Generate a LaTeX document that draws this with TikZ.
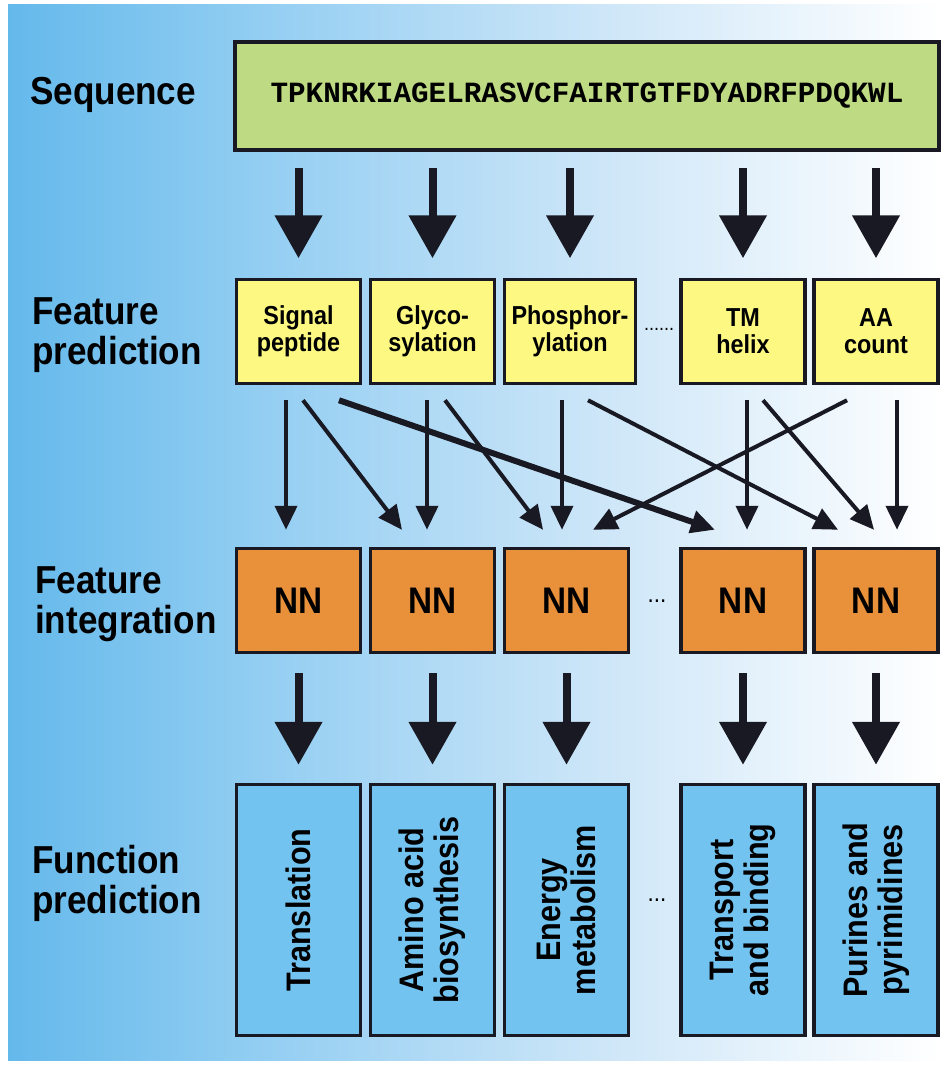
\documentclass[tikz,border=0pt]{standalone}
\usepackage{fontspec}
\usetikzlibrary{arrows.meta}
\newfontfamily\labfont{Liberation Sans}[FakeStretch=0.9]
\newfontfamily\seqfont{Liberation Mono}

\definecolor{seqgreen}{RGB}{190,218,130}
\definecolor{featyellow}{RGB}{252,248,130}
\definecolor{nnorange}{RGB}{232,145,58}
\definecolor{funcblue}{RGB}{115,195,240}
\definecolor{bgblue}{RGB}{100,185,235}
\definecolor{bgmid}{RGB}{145,205,242}
\definecolor{bglight}{RGB}{205,230,248}
\definecolor{edgeblack}{RGB}{25,25,35}

\begin{document}
\begin{tikzpicture}[
  x=1pt,
  y=-1pt,
  box/.style={draw=edgeblack, line width=3.5pt, rectangle, inner sep=0pt,
    minimum width=124pt, minimum height=104pt},
  rowlabel/.style={anchor=west, align=left, inner sep=0pt,
    font=\labfont\bfseries\fontsize{39}{40}\selectfont},
  feat/.style={box, fill=featyellow, align=center,
    font=\labfont\bfseries\fontsize{26}{27}\selectfont},
  nn/.style={box, fill=nnorange, font=\labfont\bfseries\fontsize{37}{40}\selectfont},
  func/.style={box, fill=funcblue, rotate=90, align=center,
    minimum width=251pt, minimum height=124pt,
    font=\labfont\bfseries\fontsize{34}{35}\selectfont},
  gap/.style={inner sep=0pt, font=\labfont\fontsize{25}{25}\selectfont},
  bigarrow/.style={-{Triangle[width=46pt,length=43pt]}, line width=8pt, color=edgeblack},
  thinarrow/.style={-{Triangle[width=22pt,length=24pt]}, line width=4pt, color=edgeblack},
]
\useasboundingbox (0,0) rectangle (941,1065);
% background
\fill[left color=bgblue, right color=bgmid] (8,5) rectangle (250,1060);
\fill[left color=bgmid, right color=bglight] (250,5) rectangle (600,1060);
\fill[left color=bglight, right color=white] (600,5) rectangle (941,1060);

% row labels
\node[rowlabel] (seqlab) at (30,95) {Sequence};
\node[rowlabel] (featlab) at (32,335) {Feature\\prediction};
\node[rowlabel] (intlab) at (35,604) {Feature\\integration};
\node[rowlabel] (funclab) at (32,883) {Function\\prediction};

% sequence
\node[box, fill=seqgreen, minimum width=704pt, minimum height=108pt,
  font=\seqfont\bfseries\fontsize{29.3}{31}\selectfont] (seq) at (587,96)
  {TPKNRKIAGELRASVCFAIRTGTFDYADRFPDQKWL};

% feature prediction
\node[feat] (sig) at (298.5,331.5) {Signal\\peptide};
\node[feat] (gly) at (432.5,331.5) {Glyco-\\sylation};
\node[feat, minimum width=131pt] (pho) at (570,331.5) {Phosphor-\\ylation};
\node[gap, font=\labfont\fontsize{20}{20}\selectfont] (fdots) at (659,329) {......};
\node[feat] (tm) at (743,331.5) {TM\\helix};
\node[feat] (aa) at (876,331.5) {AA\\count};

% feature integration
\node[nn] (nn1) at (298.5,600.5) {NN};
\node[nn] (nn2) at (432.5,600.5) {NN};
\node[nn] (nn3) at (566.5,600.5) {NN};
\node[gap] (ndots) at (657,601) {...};
\node[nn] (nn4) at (743,600.5) {NN};
\node[nn] (nn5) at (876,600.5) {NN};

% function prediction
\node[func] (f1) at (298.5,910) {Translation};
\node[func] (f2) at (432.5,910) {Amino acid\\biosynthesis};
\node[func] (f3) at (566.5,910) {Energy\\metabolism};
\node[gap] (fndots) at (657,900) {...};
\node[func] (f4) at (743,910) {Transport\\and binding};
\node[func] (f5) at (876,910) {Purines and\\pyrimidines};

\path[bigarrow, shorten <=16pt, shorten >=19.5pt]
        (seq.south -| sig.north) edge (sig.north)
        (seq.south -| gly.north) edge (gly.north)
        (seq.south -| pho.north) edge (pho.north)
        (seq.south -| tm.north) edge (tm.north)
        (seq.south -| aa.north) edge (aa.north);
\path[bigarrow, shorten <=19pt, shorten >=18pt]
        (nn1.south) edge (f1.east)
        (nn2.south) edge (f2.east)
        (nn3.south) edge (f3.east)
        (nn4.south) edge (f4.east)
        (nn5.south) edge (f5.east);

\path[thinarrow]
        ([xshift=-12.5pt,yshift=-15pt]sig.south) edge ([xshift=-12.5pt,yshift=17pt]nn1.north)
        ([xshift=4.5pt,yshift=-15pt]sig.south) edge ([xshift=-30.5pt,yshift=17pt]nn2.north)
        ([xshift=-5.5pt,yshift=-15pt]gly.south) edge ([xshift=-5.5pt,yshift=17pt]nn2.north)
        ([xshift=12.5pt,yshift=-15pt]gly.south) edge ([xshift=-23.5pt,yshift=17pt]nn3.north)
        ([xshift=-8pt,yshift=-15pt]pho.south) edge ([xshift=-4.5pt,yshift=17pt]nn3.north)
        ([xshift=18pt,yshift=-15pt]pho.south) edge ([xshift=-38pt,yshift=17pt]nn5.north)
        ([xshift=4pt,yshift=-15pt]tm.south) edge ([xshift=4pt,yshift=17pt]nn4.north)
        ([xshift=20pt,yshift=-15pt]tm.south) edge ([xshift=-2pt,yshift=17pt]nn5.north)
        ([xshift=-29pt,yshift=-15pt]aa.south) edge ([xshift=26.5pt,yshift=17pt]nn3.north)
        ([xshift=21pt,yshift=-15pt]aa.south) edge ([xshift=21pt,yshift=17pt]nn5.north);
\draw[thinarrow, line width=6pt] ([xshift=40.5pt,yshift=-15pt]sig.south) -- ([xshift=-28pt,yshift=17pt]nn4.north);

\end{tikzpicture}
\end{document}
